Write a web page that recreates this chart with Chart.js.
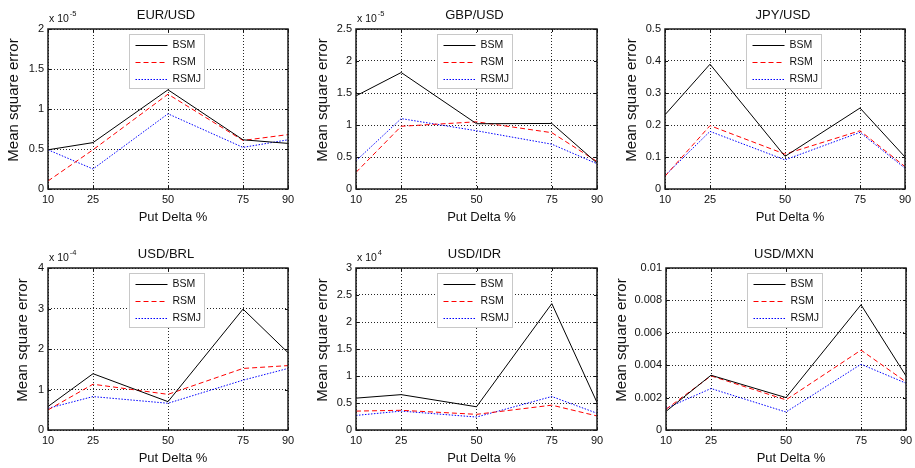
<!DOCTYPE html>
<html>
<head>
<meta charset="utf-8">
<title>Mean square error by put delta</title>
<script src="https://cdn.jsdelivr.net/npm/chart.js@4.4.1/dist/chart.umd.min.js"></script>
<style>
  body { margin: 0; background: #fff; }
  #grid { position: relative; width: 915px; height: 468px; }
  .cell { position: absolute; width: 305px; height: 234px; }
</style>
</head>
<body>
<div id="grid"></div>
<script>
// Put delta (%) on the x axis
const putDelta = [10, 25, 50, 75, 90];
const seriesNames = ['BSM', 'RSM', 'RSMJ'];

// EUR/USD (x 10^-5)
const eurUsdBsm = [0.49, 0.58, 1.24, 0.615, 0.57];
const eurUsdRsm = [0.10, 0.49, 1.185, 0.607, 0.68];
const eurUsdRsmj = [0.49, 0.25, 0.94, 0.52, 0.615];
const eurUsdTicks = [0, 0.5, 1, 1.5, 2];

// GBP/USD (x 10^-5)
const gbpUsdBsm = [1.455, 1.82, 1.02, 1.024, 0.405];
const gbpUsdRsm = [0.26, 0.98, 1.05, 0.88, 0.43];
const gbpUsdRsmj = [0.44, 1.10, 0.91, 0.70, 0.395];
const gbpUsdTicks = [0, 0.5, 1, 1.5, 2, 2.5];

// JPY/USD
const jpyUsdBsm = [0.232, 0.39, 0.102, 0.253, 0.10];
const jpyUsdRsm = [0.04, 0.198, 0.109, 0.182, 0.07];
const jpyUsdRsmj = [0.042, 0.18, 0.091, 0.177, 0.065];
const jpyUsdTicks = [0, 0.1, 0.2, 0.3, 0.4, 0.5];

// USD/BRL (x 10^-4)
const usdBrlBsm = [0.58, 1.39, 0.70, 2.985, 1.91];
const usdBrlRsm = [0.495, 1.13, 0.88, 1.52, 1.59];
const usdBrlRsmj = [0.535, 0.825, 0.66, 1.23, 1.52];
const usdBrlTicks = [0, 1, 2, 3, 4];

// USD/IDR (x 10^4)
const usdIdrBsm = [0.59, 0.655, 0.43, 2.34, 0.51];
const usdIdrRsm = [0.35, 0.365, 0.29, 0.46, 0.26];
const usdIdrRsmj = [0.27, 0.35, 0.24, 0.62, 0.31];
const usdIdrTicks = [0, 0.5, 1, 1.5, 2, 2.5, 3];

// USD/MXN
const usdMxnBsm = [0.00115, 0.00338, 0.0020, 0.00773, 0.00334];
const usdMxnRsm = [0.00128, 0.00334, 0.00186, 0.00493, 0.00297];
const usdMxnRsmj = [0.00134, 0.00256, 0.00111, 0.00406, 0.00289];
const usdMxnTicks = [0, 0.002, 0.004, 0.006, 0.008, 0.01];

const panels = [
    { title: 'EUR/USD', exponent: '-5', ticks: eurUsdTicks, series: [eurUsdBsm, eurUsdRsm, eurUsdRsmj] },
    { title: 'GBP/USD', exponent: '-5', ticks: gbpUsdTicks, series: [gbpUsdBsm, gbpUsdRsm, gbpUsdRsmj] },
    { title: 'JPY/USD', exponent: null, ticks: jpyUsdTicks, series: [jpyUsdBsm, jpyUsdRsm, jpyUsdRsmj] },
    { title: 'USD/BRL', exponent: '-4', ticks: usdBrlTicks, series: [usdBrlBsm, usdBrlRsm, usdBrlRsmj] },
    { title: 'USD/IDR', exponent: '4', ticks: usdIdrTicks, series: [usdIdrBsm, usdIdrRsm, usdIdrRsmj] },
    { title: 'USD/MXN', exponent: null, ticks: usdMxnTicks, series: [usdMxnBsm, usdMxnRsm, usdMxnRsmj] }
];

// Where each plot box sits inside its 305x234 cell
const CELL_W = 305;
const CELL_H = 234;
const boxes = [
    { left: 48, top: 29, right: 288, bottom: 189, yLabelX: 14 },
    { left: 51, top: 29, right: 292, bottom: 189, yLabelX: 18 },
    { left: 55, top: 29, right: 295, bottom: 189, yLabelX: 22 },
    { left: 48, top: 34, right: 288, bottom: 196, yLabelX: 23 },
    { left: 51, top: 34, right: 292, bottom: 196, yLabelX: 18 },
    { left: 56, top: 34, right: 296, bottom: 196, yLabelX: 12 }
];

const FONT = "'Liberation Sans', Arial, Helvetica, sans-serif";
const lineStyles = [
    { color: '#000000', dash: [] },
    { color: '#ff0000', dash: [5, 3] },
    { color: '#0000ff', dash: [1.5, 1.5] }
];

// Draws the MATLAB-like frame, ticks, titles and legend
const matlabAxes = {
    id: 'matlabAxes',
    afterDatasetsDraw(chart, args, opts) {
        const ctx = chart.ctx;
        const a = chart.chartArea;
        const xScale = chart.scales.x;
        const yScale = chart.scales.y;
        const midX = (a.left + a.right) / 2;

        ctx.save();

        // inward tick marks
        ctx.strokeStyle = '#111';
        ctx.lineWidth = 1;
        ctx.beginPath();
        putDelta.forEach(v => {
            const px = Math.round(xScale.getPixelForValue(v)) + 0.5;
            ctx.moveTo(px, a.bottom); ctx.lineTo(px, a.bottom - 3);
            ctx.moveTo(px, a.top); ctx.lineTo(px, a.top + 3);
        });
        opts.ticks.forEach(v => {
            const py = Math.round(yScale.getPixelForValue(v)) + 0.5;
            ctx.moveTo(a.left, py); ctx.lineTo(a.left + 3, py);
            ctx.moveTo(a.right, py); ctx.lineTo(a.right - 3, py);
        });
        ctx.stroke();

        // frame
        ctx.lineWidth = 1.5;
        ctx.strokeStyle = '#1a1a1a';
        ctx.strokeRect(a.left, a.top, a.right - a.left, a.bottom - a.top);

        // legend
        const lw = 75, lh = 54;
        const lx = Math.round(midX - 2 - lw / 2) + 0.5;
        const ly = Math.round(a.top + 5) + 0.5;
        ctx.fillStyle = '#fff';
        ctx.fillRect(lx, ly, lw, lh);
        ctx.strokeStyle = '#c8c8c8';
        ctx.lineWidth = 1;
        ctx.strokeRect(lx, ly, lw, lh);
        ctx.font = '10.5px ' + FONT;
        ctx.textAlign = 'left';
        ctx.textBaseline = 'middle';
        seriesNames.forEach((name, i) => {
            const ry = Math.round(ly + 10 + i * 17) + 0.5;
            ctx.strokeStyle = lineStyles[i].color;
            ctx.lineWidth = 1;
            ctx.setLineDash(lineStyles[i].dash);
            ctx.beginPath();
            ctx.moveTo(lx + 6, ry);
            ctx.lineTo(lx + 38, ry);
            ctx.stroke();
            ctx.setLineDash([]);
            ctx.fillStyle = '#111';
            ctx.fillText(name, lx + 43, ry);
        });

        // title
        ctx.fillStyle = '#111';
        ctx.font = '13px ' + FONT;
        ctx.textAlign = 'center';
        ctx.fillText(opts.title, midX - 2, a.top - 14);

        // exponent above the y axis
        if (opts.exponent) {
            ctx.textAlign = 'left';
            ctx.font = '10.5px ' + FONT;
            const base = 'x 10';
            ctx.fillText(base, a.left + 1, a.top - 10);
            const w = ctx.measureText(base).width;
            ctx.font = '7.5px ' + FONT;
            ctx.fillText(opts.exponent, a.left + 2 + w, a.top - 15);
        }

        // axis labels
        ctx.font = '13px ' + FONT;
        ctx.textAlign = 'center';
        ctx.fillText('Put Delta %', midX + 5, a.bottom + 28);

        ctx.save();
        ctx.translate(opts.yLabelX, (a.top + a.bottom) / 2 - 9);
        ctx.rotate(-Math.PI / 2);
        ctx.font = '15px ' + FONT;
        ctx.fillText('Mean square error', 0, 0);
        ctx.restore();

        ctx.restore();
    }
};

function makeChart(panel, box, index) {
    const cell = document.createElement('div');
    cell.className = 'cell';
    cell.style.left = (index % 3) * CELL_W + 'px';
    cell.style.top = Math.floor(index / 3) * CELL_H + 'px';
    const canvas = document.createElement('canvas');
    canvas.width = CELL_W;
    canvas.height = CELL_H;
    cell.appendChild(canvas);
    document.getElementById('grid').appendChild(cell);

    const datasets = panel.series.map((values, i) => ({
        label: seriesNames[i],
        data: putDelta.map((x, j) => ({ x: x, y: values[j] })),
        borderColor: lineStyles[i].color,
        borderDash: lineStyles[i].dash,
        borderWidth: 1,
        pointRadius: 0,
        tension: 0,
        fill: false
    }));

    const tickFont = { family: FONT, size: 11 };

    return new Chart(canvas, {
        type: 'line',
        data: { datasets: datasets },
        plugins: [matlabAxes],
        options: {
            responsive: false,
            animation: false,
            devicePixelRatio: 1,
            layout: {
                padding: { left: 0, top: box.top, right: CELL_W - box.right, bottom: 0 }
            },
            plugins: {
                legend: { display: false },
                tooltip: { enabled: false },
                matlabAxes: {
                    title: panel.title,
                    exponent: panel.exponent,
                    ticks: panel.ticks,
                    yLabelX: box.yLabelX
                }
            },
            scales: {
                x: {
                    type: 'linear',
                    min: 10,
                    max: 90,
                    afterBuildTicks: scale => {
                        scale.ticks = putDelta.map(v => ({ value: v }));
                    },
                    afterFit: scale => {
                        scale.height = CELL_H - box.bottom;
                        scale.paddingLeft = 0;
                        scale.paddingRight = 0;
                    },
                    ticks: {
                        autoSkip: false,
                        maxRotation: 0,
                        padding: 4,
                        color: '#111',
                        font: tickFont,
                        callback: v => String(v)
                    },
                    grid: { color: 'rgba(0,0,0,0.85)', lineWidth: 1, drawTicks: false },
                    border: { display: false, dash: [1, 2] }
                },
                y: {
                    type: 'linear',
                    min: panel.ticks[0],
                    max: panel.ticks[panel.ticks.length - 1],
                    afterBuildTicks: scale => {
                        scale.ticks = panel.ticks.map(v => ({ value: v }));
                    },
                    afterFit: scale => {
                        scale.width = box.left;
                    },
                    ticks: {
                        padding: 4,
                        color: '#111',
                        font: tickFont,
                        callback: v => String(v)
                    },
                    grid: { color: 'rgba(0,0,0,0.85)', lineWidth: 1, drawTicks: false },
                    border: { display: false, dash: [1, 2] }
                }
            }
        }
    });
}

panels.forEach((panel, i) => makeChart(panel, boxes[i], i));
</script>
</body>
</html>
